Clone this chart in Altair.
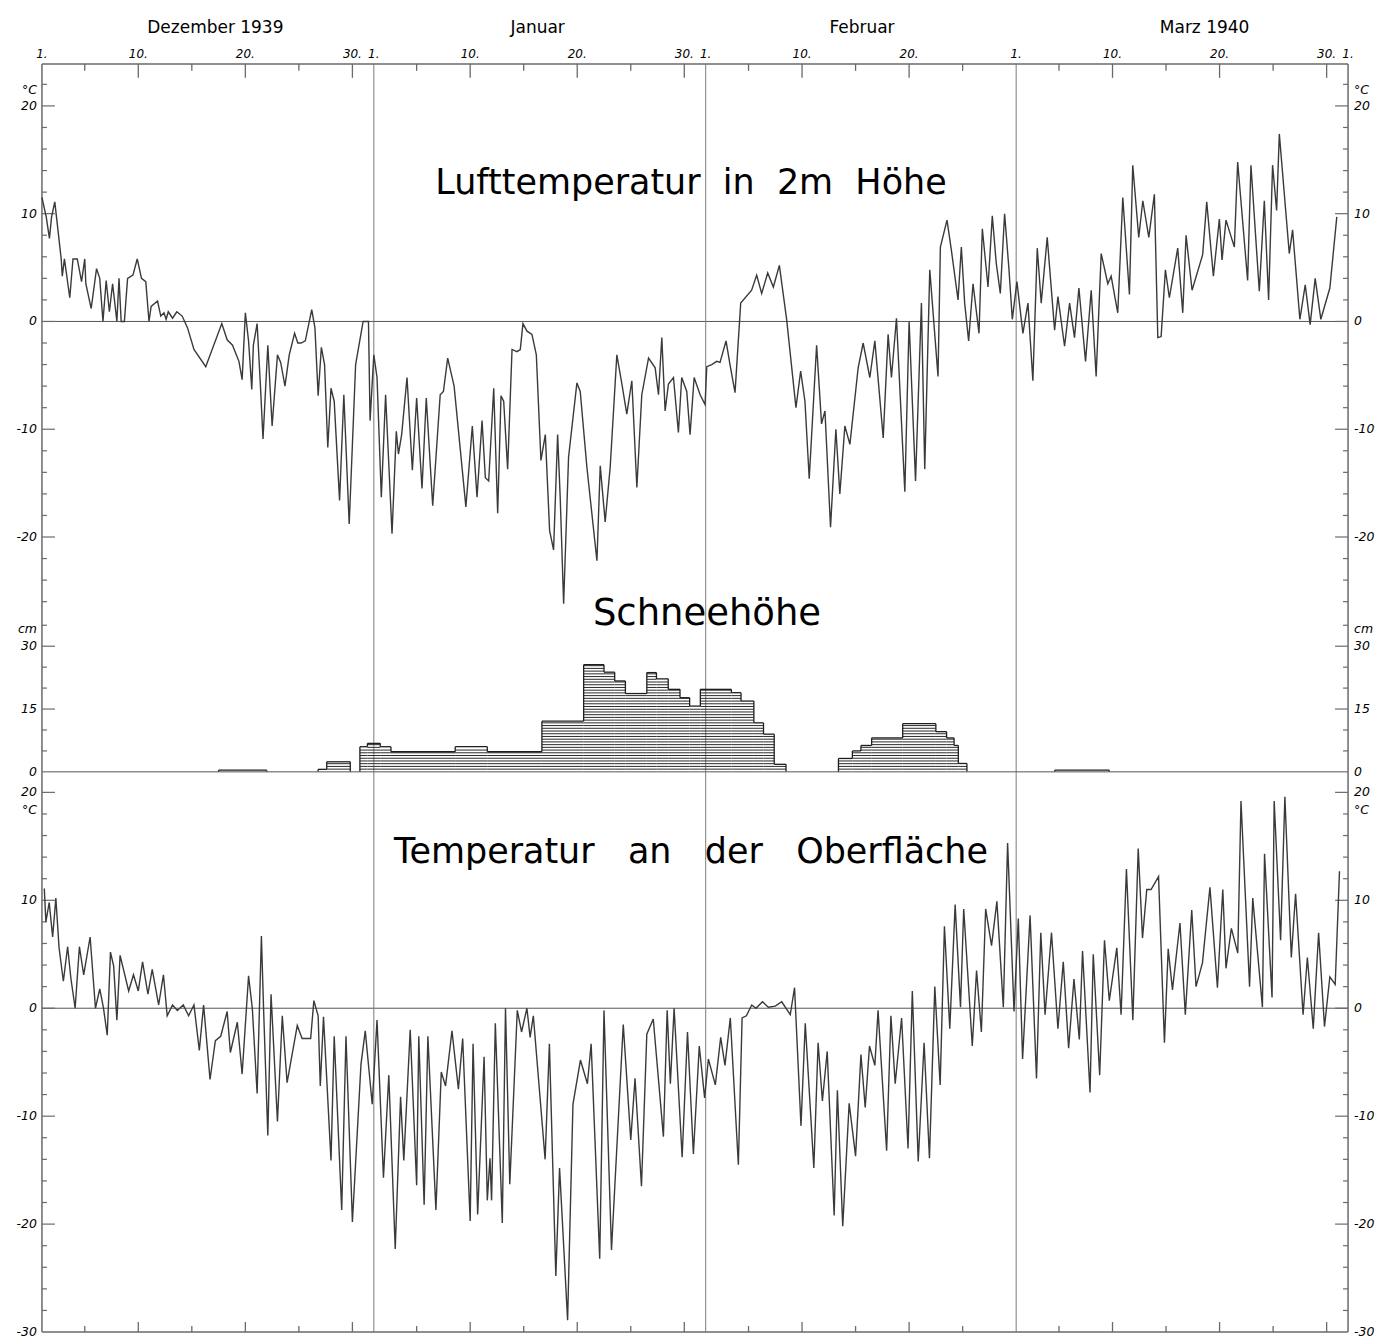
import altair as alt
import pandas as pd
import numpy as np

# ---------------- layout (pixels) ----------------
W = 1308
HA, HB, HC = 558, 151, 561
FONT = "DejaVu Sans"
LINE = "#3a3a3a"
GRID = "#6a6a6a"
NB = "\u00a0"

# ---------------- data ----------------
# days counted from 1 Dec 1939 (0 = 1 Dec, 31 = 1 Jan, 62 = 1 Feb, 91 = 1 Mar, 122 = 1 Apr)
air_day = [0.0, 0.4, 0.7, 0.9, 1.2, 1.8, 1.9, 2.1, 2.6, 2.9, 3.3, 3.7, 4.0, 4.1, 4.6, 5.1, 5.4, 5.7, 6.0, 6.3,
           6.6, 7.0, 7.2, 7.4, 7.7, 8.0, 8.5, 8.9, 9.3, 9.7, 10.0, 10.2, 10.8, 11.1, 11.4, 11.6, 11.8, 12.2, 12.6, 13.1,
           13.6, 14.2, 15.3, 16.8, 17.3, 17.8, 18.4, 18.7, 19.0, 19.3, 19.6, 19.75, 20.1, 20.4, 20.65, 21.1, 21.5, 22.0, 22.3, 22.7,
           23.1, 23.6, 23.9, 24.2, 24.6, 25.2, 25.5, 25.8, 26.1, 26.4, 26.7, 27.0, 27.3, 27.8, 28.2, 28.7, 29.3, 30.0, 30.5, 30.65,
           31.0, 31.3, 31.7, 32.1, 32.7, 33.1, 33.3, 33.6, 34.1, 34.6, 35.0, 35.5, 35.9, 36.5, 37.2, 37.5, 37.9, 38.5, 39.6, 40.2,
           40.64, 41.11, 41.42, 41.73, 42.2, 42.57, 42.88, 43.13, 43.5, 43.91, 44.37, 44.68, 44.93, 45.31, 45.77, 46.18, 46.61, 47.02, 47.42, 47.79,
           48.17, 48.42, 48.73, 49.19, 49.97, 50.28, 50.9, 51.84, 52.15, 52.61, 53.08, 53.7, 54.17, 54.63, 55.1, 55.57, 56.03, 56.66, 57.28, 57.59,
           57.9, 58.21, 58.52, 58.99, 59.45, 59.76, 60.23, 60.54, 60.92, 61.48, 61.94, 62.1, 62.56, 63.03, 63.34, 63.9, 64.27, 64.74, 65.27, 66.29,
           66.76, 67.23, 67.79, 68.32, 68.88, 69.56, 70.43, 70.87, 71.27, 71.67, 72.36, 72.82, 73.14, 73.66, 74.16, 74.53, 75.0, 75.47, 76.24, 76.71,
           77.33, 77.8, 78.58, 79.04, 79.35, 79.82, 80.6, 81.0, 81.6, 82.15, 82.46, 82.93, 83.7, 83.92, 84.54, 84.95, 85.57, 85.88, 86.19, 86.56,
           86.97, 87.53, 87.84, 88.37, 88.77, 89.14, 89.52, 89.92, 90.33, 90.64, 91.07, 91.63, 92.1, 92.56, 92.97, 93.34, 93.9, 94.59, 94.9, 95.52,
           95.99, 96.45, 96.86, 97.48, 98.01, 98.47, 98.94, 99.56, 99.87, 100.49, 100.96, 101.58, 101.89, 102.45, 102.83, 103.39, 103.91, 104.23, 104.54, 104.94,
           105.31, 106.09, 106.56, 106.87, 107.43, 108.42, 108.8, 109.42, 109.98, 110.23, 110.6, 111.38, 111.69, 112.62, 112.93, 113.71, 114.18, 114.58, 114.95, 115.33,
           115.58, 116.51, 116.82, 117.5, 118.0, 118.46, 118.93, 119.46, 120.3, 120.95]
air_temp = [11.5, 9.7, 7.7, 9.7, 11.1, 5.8, 4.2, 5.8, 2.2, 5.8, 5.8, 3.7, 5.8, 3.5, 1.2, 4.9, 4.0, 0.0, 3.8, 0.9,
            3.5, 0.0, 4.0, 0.0, 0.0, 4.0, 4.3, 5.8, 4.0, 3.7, 0.0, 1.4, 1.9, 0.5, 0.8, 0.2, 0.9, 0.3, 0.9, 0.5,
            -0.6, -2.6, -4.2, -0.2, -1.7, -2.2, -3.7, -5.4, 0.8, -1.8, -6.3, -2.2, -0.2, -5.8, -10.9, -2.2, -9.7, -3.1, -3.8, -6.0,
            -3.1, -1.1, -2.0, -2.0, -1.8, 1.1, -0.6, -6.9, -2.4, -4.0, -11.7, -6.2, -7.4, -16.6, -6.8, -18.8, -4.0, 0.0, 0.0, -9.2,
            -3.1, -5.2, -16.3, -6.8, -19.7, -10.2, -12.3, -10.5, -5.2, -13.8, -7.1, -15.5, -7.1, -17.1, -6.8, -6.5, -3.4, -6.0, -17.2, -9.7,
            -16.3, -9.2, -14.5, -14.8, -6.2, -17.8, -6.9, -7.4, -13.7, -2.6, -2.8, -2.6, -0.2, -0.9, -1.2, -3.1, -12.9, -10.5, -19.4, -21.2,
            -10.5, -16.6, -26.2, -12.6, -5.7, -6.5, -13.5, -22.2, -13.4, -18.6, -13.5, -3.1, -5.8, -8.6, -5.5, -15.4, -6.8, -3.4, -4.3, -6.8,
            -1.5, -8.3, -5.8, -5.2, -10.3, -5.2, -6.5, -10.5, -5.2, -6.8, -7.7, -4.2, -4.0, -3.7, -3.8, -1.8, -4.0, -6.6, 1.7, 2.9,
            4.3, 2.6, 4.5, 3.2, 5.2, 0.2, -8.0, -4.6, -7.4, -14.6, -2.2, -9.5, -8.3, -19.1, -10.0, -16.0, -9.7, -11.4, -4.3, -2.0,
            -5.2, -1.8, -10.8, -1.2, -5.2, 0.3, -15.8, 0.0, -14.8, 1.7, -13.7, 4.8, -5.1, 6.9, 9.4, 6.6, 2.0, 6.9, 1.7, -1.8,
            3.5, -1.1, 8.6, 3.2, 9.8, 5.4, 2.6, 10.0, 4.8, 0.2, 3.7, -1.1, 1.7, -5.5, 6.8, 1.7, 7.8, -0.8, 2.3, -2.3,
            1.7, -1.5, 3.1, -3.7, 2.9, -5.1, 6.3, 3.5, 4.2, 0.8, 11.5, 2.5, 14.5, 7.8, 11.2, 7.8, 11.8, -1.5, -1.4, 4.8,
            2.2, 6.8, 0.8, 8.0, 2.9, 6.2, 11.1, 4.2, 9.5, 5.7, 9.4, 6.9, 14.8, 3.8, 14.5, 2.8, 11.2, 2.0, 14.5, 10.3,
            17.4, 6.3, 8.5, 0.2, 3.4, -0.3, 4.0, 0.2, 3.1, 9.7]

surf_day = [0.22, 0.37, 0.68, 1.0, 1.3, 1.6, 2.0, 2.4, 2.7, 3.1, 3.5, 3.9, 4.5, 5.0, 5.4, 5.75, 6.1, 6.4, 6.7, 7.0,
            7.3, 8.1, 8.55, 9.0, 9.4, 9.9, 10.3, 10.9, 11.35, 11.7, 12.2, 12.65, 13.2, 13.7, 14.2, 14.7, 15.1, 15.7, 16.2, 16.7,
            17.3, 17.6, 18.25, 18.7, 19.3, 19.65, 20.1, 20.5, 20.7, 21.1, 21.4, 22.0, 22.45, 22.9, 23.85, 24.3, 25.1, 25.4, 25.8, 26.0,
            26.3, 27.0, 27.3, 28.0, 28.4, 29.0, 29.8, 30.2, 30.85, 31.3, 31.9, 32.4, 33.0, 33.5, 33.8, 34.4, 35.0, 35.2, 35.7, 36.05,
            36.8, 37.3, 37.7, 38.3, 38.9, 39.3, 40.0, 40.27, 40.7, 41.3, 41.6, 41.85, 42.0, 42.35, 43.0, 43.3, 43.7, 44.4, 44.8, 45.3,
            45.6, 45.9, 47.0, 47.4, 48.0, 48.35, 49.1, 49.6, 50.3, 50.95, 51.3, 52.1, 52.5, 53.2, 54.3, 55.0, 55.4, 56.0, 56.5, 57.1,
            58.05, 58.4, 58.7, 59.05, 59.8, 60.3, 60.85, 61.4, 61.9, 62.25, 62.9, 63.4, 63.8, 64.3, 65.05, 65.4, 65.8, 66.3, 66.7, 67.3,
            67.85, 68.5, 69.1, 69.9, 70.3, 70.9, 71.3, 72.1, 72.5, 72.9, 73.35, 74.0, 74.3, 74.8, 75.4, 76.0, 76.5, 76.9, 77.3, 77.8,
            78.1, 78.9, 79.3, 79.7, 80.3, 80.9, 81.3, 81.85, 82.4, 82.9, 83.4, 83.9, 84.3, 84.8, 85.3, 85.8, 86.1, 86.9, 87.3, 87.75,
            88.15, 88.7, 89.2, 89.8, 90.2, 90.8, 91.2, 91.6, 92.3, 92.9, 93.3, 93.7, 94.3, 94.9, 95.4, 95.9, 96.4, 96.9, 97.2, 97.9,
            98.2, 98.8, 99.25, 99.7, 100.4, 100.8, 101.3, 101.9, 102.4, 102.8, 103.2, 103.6, 104.3, 104.85, 105.2, 105.6, 106.3, 106.8, 107.4, 107.8,
            108.4, 109.1, 109.8, 110.3, 110.6, 111.1, 111.7, 112.0, 112.8, 113.1, 114.0, 114.2, 114.9, 115.1, 115.7, 116.1, 116.7, 117.1, 117.8, 118.2,
            118.75, 119.25, 119.8, 120.3, 120.8, 121.2]
surf_temp = [11.1, 8.0, 9.8, 6.6, 10.2, 5.6, 2.5, 5.7, 2.8, 0.0, 5.7, 3.1, 6.6, 0.0, 1.8, 0.0, -2.5, 5.2, 3.9, -1.1,
             4.9, 1.6, 3.1, 1.6, 4.3, 1.3, 3.6, 0.3, 3.1, -0.7, 0.3, -0.2, 0.3, -0.7, 0.3, -3.9, 0.3, -6.6, -3.0, -2.6,
             -0.3, -4.1, -1.3, -6.1, 3.0, 0.0, -7.9, 6.7, 0.0, -11.8, 1.3, -10.5, -0.7, -6.9, -1.6, -2.8, -2.8, 0.7, -0.7, -7.2,
             -0.8, -14.1, -2.6, -18.7, -2.6, -19.8, -5.2, -2.1, -8.9, -1.1, -15.7, -6.2, -22.3, -8.2, -14.1, -2.0, -16.4, -2.6, -18.2, -2.6,
             -18.7, -5.9, -7.2, -2.1, -7.5, -2.8, -19.7, -3.3, -19.1, -4.5, -17.8, -13.9, -17.8, -1.4, -19.9, 0.0, -16.3, -0.2, -2.2, 0.0,
             -2.7, -0.7, -14.0, -3.3, -24.8, -14.8, -28.9, -8.9, -4.8, -7.0, -3.3, -23.2, -0.2, -22.4, -1.5, -12.2, -6.5, -16.5, -2.4, -1.0,
             -11.9, -0.2, -7.0, 0.0, -13.8, -2.2, -13.5, -3.5, -8.3, -4.7, -7.1, -2.7, -5.3, -0.9, -14.5, -0.9, -0.7, 0.3, 0.0, 0.6,
             0.1, 0.2, 0.6, -0.6, 1.9, -10.9, -1.4, -14.8, -3.2, -8.6, -4.0, -19.2, -7.6, -20.2, -8.8, -13.7, -4.3, -9.2, -3.5, -5.3,
             -0.2, -13.2, -0.7, -7.0, -0.9, -13.0, 1.6, -14.2, -3.2, -13.9, 2.0, -7.1, 7.6, -1.9, 9.6, 0.1, 9.2, -3.5, 3.5, -2.2,
             9.2, 5.8, 9.9, 0.1, 15.3, -0.3, 8.3, -4.7, 8.6, -6.5, 7.0, -0.6, 7.0, -1.9, 4.3, -3.7, 2.7, -2.9, 5.3, -7.8,
             5.0, -6.2, 6.3, 0.7, 5.6, -0.6, 12.9, -1.1, 14.8, 6.5, 11.0, 11.0, 12.2, -3.2, 5.5, 1.7, 7.9, -0.6, 9.1, 2.0,
             4.2, 11.2, 1.9, 11.0, 3.7, 7.4, 5.1, 19.2, 2.0, 10.2, 0.1, 14.3, 1.0, 19.2, 6.3, 19.6, 4.7, 10.6, -0.6, 4.7,
             -1.9, 7.0, -1.7, 2.9, 2.2, 12.7]

# snow depth (cm), stepwise: start day, end day, depth
snow_start = [16.5, 25.8, 26.6, 29.7, 30.4, 31.6, 32.6, 38.6, 41.6, 46.7, 50.6, 52.5, 53.5, 54.5, 56.5, 57.4, 58.5, 59.6, 60.5, 61.5,
              64.4, 65.3, 66.5, 67.4, 68.4, 74.4, 75.7, 76.5, 77.5, 80.4, 83.5, 84.5, 85.2, 85.6, 94.6]
snow_end = [21.0, 26.6, 28.8, 30.4, 31.6, 32.6, 38.6, 41.6, 46.7, 50.6, 52.5, 53.5, 54.5, 56.5, 57.4, 58.5, 59.6, 60.5, 61.5, 64.4,
            65.3, 66.5, 67.4, 68.4, 69.5, 75.7, 76.5, 77.5, 80.4, 83.5, 84.5, 85.2, 85.6, 86.4, 99.7]
snow_depth = [0.4, 0.6, 2.4, 6.0, 6.8, 6.0, 4.8, 6.0, 4.8, 12.1, 25.6, 23.8, 21.7, 18.7, 23.7, 22.2, 19.7, 17.7, 15.7, 19.7,
              18.9, 16.9, 11.7, 9.0, 1.8, 3.2, 5.0, 6.3, 8.1, 11.5, 9.6, 8.1, 6.3, 2.0, 0.4]

# calendar / axis text
month_names = ["Dezember 1939", "Januar", "Februar", "Marz 1940"]
month_name_day = [16.2, 46.3, 76.6, 108.6]
month_start = [0, 31, 62, 91]
month_len = [31, 31, 29, 31]
tick_dates = [5, 10, 15, 20, 25, 30]
label_dates = [1, 10, 20, 30]

air_axis_vals = [20, 10, 0, -10, -20]
surf_axis_vals = [20, 10, 0, -10, -20, -30]
snow_axis_vals = [30, 15, 0]

titles = [["Lufttemperatur", "in", "2m", "Höhe"], ["Schneehöhe"], ["Temperatur", "an", "der", "Oberfläche"]]

# ---------------- tables ----------------
air = pd.DataFrame({"day": air_day, "t": air_temp})
surf = pd.DataFrame({"day": surf_day, "t": surf_temp})
snow = pd.DataFrame({"s": snow_start, "e": snow_end, "d": snow_depth})

# hatch fill of the snow blocks
hatch_rows = []
for s, e, d in zip(snow_start, snow_end, snow_depth):
    for lv in np.arange(0.65, d - 0.15, 0.65):
        hatch_rows.append({"s": s, "e": e, "lv": float(lv)})
hatch = pd.DataFrame(hatch_rows)

# outer contour of the snow blocks (vertical edges only between levels)
vert_rows = []
n = len(snow_start)
for i in range(n):
    prev_contig = i > 0 and abs(snow_end[i - 1] - snow_start[i]) < 1e-6
    next_contig = i < n - 1 and abs(snow_start[i + 1] - snow_end[i]) < 1e-6
    lo = snow_depth[i - 1] if prev_contig else 0.0
    vert_rows.append({"day": snow_start[i], "a": min(lo, snow_depth[i]), "b": max(lo, snow_depth[i])})
    if not next_contig:
        vert_rows.append({"day": snow_end[i], "a": 0.0, "b": snow_depth[i]})
verts = pd.DataFrame(vert_rows)

tick_rows, lab_rows = [], []
for m0, ml in zip(month_start, month_len):
    for dte in tick_dates:
        if dte <= ml:
            tick_rows.append({"day": m0 + dte - 1, "major": dte % 10 == 0})
    for dte in label_dates:
        if dte <= ml:
            lab_rows.append({"day": m0 + dte - 1, "txt": f"{dte}."})
lab_rows.append({"day": 122, "txt": "1."})
ticks = pd.DataFrame(tick_rows)
ticks_major = ticks[ticks["major"]]
ticks_minor = ticks[~ticks["major"]]
daylabels = pd.DataFrame(lab_rows)
months = pd.DataFrame({"day": month_name_day, "name": month_names})
mlines = pd.DataFrame({"day": month_start[1:]})
one = pd.DataFrame({"a": [0]})

xs = alt.Scale(domain=[0, 122], nice=False, zero=False)
yA = alt.Scale(domain=[-27.8, 23.9], nice=False, zero=False)
yB = alt.Scale(domain=[0, 36], nice=False, zero=False)
yC = alt.Scale(domain=[-30, 21.9], nice=False, zero=False)


def X(f="day"):
    return alt.X(f"{f}:Q", scale=xs, axis=None)


def frame(h):
    left = alt.Chart(one).mark_rule(color=GRID, strokeWidth=1.5).encode(
        x=alt.value(0), y=alt.value(0), y2=alt.value(h))
    right = alt.Chart(one).mark_rule(color=GRID, strokeWidth=1.5).encode(
        x=alt.value(W), y=alt.value(0), y2=alt.value(h))
    months_l = alt.Chart(mlines).mark_rule(color="#7a7a7a", strokeWidth=1).encode(
        x=X(), y=alt.value(0), y2=alt.value(h))
    return [left, right, months_l]


def side_ticks(vals_major, vals_minor, ys):
    dfM = pd.DataFrame({"v": vals_major})
    dfm = pd.DataFrame({"v": vals_minor})
    Y = alt.Y("v:Q", scale=ys, axis=None)
    out = []
    for df, ln in ((dfM, 13), (dfm, 5)):
        out.append(alt.Chart(df).mark_rule(color=GRID, strokeWidth=1.2).encode(
            x=alt.value(0), x2=alt.value(ln), y=Y))
        out.append(alt.Chart(df).mark_rule(color=GRID, strokeWidth=1.2).encode(
            x=alt.value(W - ln), x2=alt.value(W), y=Y))
    return out


def side_labels(vals, unit, unit_v, ys):
    df = pd.DataFrame({"v": vals + [unit_v], "txt": [str(v) for v in vals] + [unit]})
    Y = alt.Y("v:Q", scale=ys, axis=None)
    common = dict(font=FONT, fontSize=12.5, fontStyle="italic", color="black", baseline="middle")
    l = alt.Chart(df).mark_text(align="right", **common).encode(x=alt.value(-5), y=Y, text="txt:N")
    r = alt.Chart(df).mark_text(align="left", **common).encode(x=alt.value(W + 6), y=Y, text="txt:N")
    return [l, r]


def zero_rule(ys):
    return alt.Chart(pd.DataFrame({"v": [0]})).mark_rule(color="#555", strokeWidth=1).encode(
        x=alt.value(0), x2=alt.value(W), y=alt.Y("v:Q", scale=ys, axis=None))


def title_text(words, xpx, ypx, size, gap):
    txt = (NB * gap).join(words)
    return alt.Chart(pd.DataFrame({"txt": [txt]})).mark_text(
        font=FONT, fontSize=size, color="black", align="center", baseline="alphabetic").encode(
        x=alt.value(xpx), y=alt.value(ypx), text="txt:N")


even_A = [v for v in range(-26, 23, 2)]
panelA_layers = [
    alt.Chart(one).mark_rect(color="white", opacity=0).encode(
        x=alt.value(-41), x2=alt.value(W + 31), y=alt.value(-62), y2=alt.value(0)),
    zero_rule(yA),
    *frame(HA),
    alt.Chart(one).mark_rule(color=GRID, strokeWidth=1.5).encode(x=alt.value(0), x2=alt.value(W), y=alt.value(0)),
    alt.Chart(ticks_major).mark_rule(color=GRID, strokeWidth=1.3).encode(x=X(), y=alt.value(0), y2=alt.value(14)),
    alt.Chart(ticks_minor).mark_rule(color=GRID, strokeWidth=1.3).encode(x=X(), y=alt.value(0), y2=alt.value(7)),
    alt.Chart(daylabels).mark_text(font=FONT, fontSize=12, fontStyle="italic", color="black",
                                   baseline="alphabetic").encode(x=X(), y=alt.value(-6), text="txt:N"),
    alt.Chart(months).mark_text(font=FONT, fontSize=17, color="black", baseline="alphabetic").encode(
        x=X(), y=alt.value(-31), text="name:N"),
    *side_ticks([v for v in even_A if v % 10 == 0], [v for v in even_A if v % 10 != 0], yA),
    *side_labels(air_axis_vals, "°C", 21.5, yA),
    alt.Chart(air).mark_line(color=LINE, strokeWidth=1.4).encode(
        x=X(), y=alt.Y("t:Q", scale=yA, axis=None)),
    title_text(titles[0], 650, 130, 35, 2),
]
panelA = alt.layer(*panelA_layers).properties(width=W, height=HA)

panelB_layers = [
    *frame(HB),
    alt.Chart(hatch).mark_rule(color="#2a2a2a", strokeWidth=1).encode(
        x=X("s"), x2="e:Q", y=alt.Y("lv:Q", scale=yB, axis=None)),
    alt.Chart(snow).mark_rule(color="#1e1e1e", strokeWidth=1.3).encode(
        x=X("s"), x2="e:Q", y=alt.Y("d:Q", scale=yB, axis=None)),
    alt.Chart(verts).mark_rule(color="#1e1e1e", strokeWidth=1.3).encode(
        x=X(), y=alt.Y("a:Q", scale=yB, axis=None), y2="b:Q"),
    zero_rule(yB),
    *side_ticks([15, 30], [5, 10, 20, 25, 35], yB),
    *side_labels(snow_axis_vals, "cm", 34, yB),
    title_text(titles[1], 666, 4, 37, 1),
]
panelB = alt.layer(*panelB_layers).properties(width=W, height=HB)

even_C = [v for v in range(-28, 21, 2)]
panelC_layers = [
    alt.Chart(one).mark_rect(color="white", opacity=0).encode(
        x=alt.value(-41), x2=alt.value(W + 31), y=alt.value(HC), y2=alt.value(HC + 5)),
    zero_rule(yC),
    *frame(HC),
    alt.Chart(one).mark_rule(color=GRID, strokeWidth=1.5).encode(x=alt.value(0), x2=alt.value(W), y=alt.value(HC)),
    alt.Chart(ticks_major).mark_rule(color=GRID, strokeWidth=1.3).encode(x=X(), y=alt.value(HC - 10), y2=alt.value(HC)),
    alt.Chart(ticks_minor).mark_rule(color=GRID, strokeWidth=1.3).encode(x=X(), y=alt.value(HC - 6), y2=alt.value(HC)),
    *side_ticks([v for v in even_C if v % 10 == 0], [v for v in even_C if v % 10 != 0], yC),
    *side_labels(surf_axis_vals, "°C", 18.4, yC),
    alt.Chart(surf).mark_line(color=LINE, strokeWidth=1.4).encode(
        x=X(), y=alt.Y("t:Q", scale=yC, axis=None)),
    title_text(titles[2], 650, 91, 35, 3),
]
panelC = alt.layer(*panelC_layers).properties(width=W, height=HC)

chart = alt.vconcat(panelA, panelB, panelC, spacing=0, bounds="flush").properties(
    padding=0, background="white"
).configure_view(stroke="transparent")

chart.save("out.html", embed_options={"renderer": "svg", "actions": False})
